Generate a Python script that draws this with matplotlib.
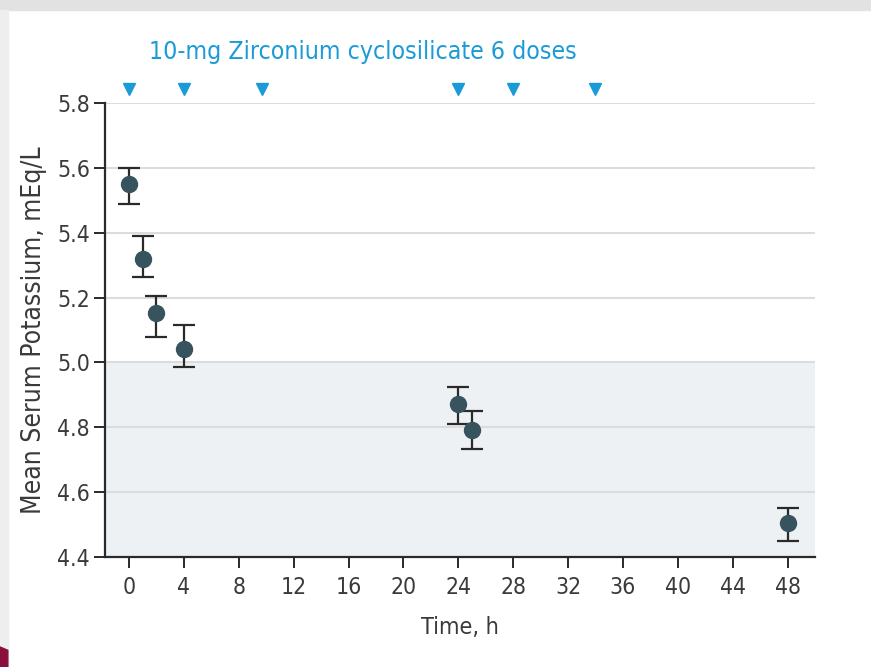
import matplotlib
matplotlib.use("Agg")
from matplotlib import pyplot as plt
from matplotlib import font_manager
from matplotlib.patches import Rectangle, Polygon
import numpy as np

# look for a narrow face, the original uses a condensed font
narrow = None
for fam in ['Liberation Sans Narrow', 'Roboto', 'Noto Sans', 'Open Sans', 'Lato', 'Inter', 'DejaVu Sans']:
    for f in font_manager.fontManager.ttflist:
        if f.name == fam and str(f.stretch) in ('condensed', 'semi-condensed', 'extra-condensed') \
                and f.style == 'normal' and f.weight in (400, 'normal', 'regular'):
            narrow = f
            break
    if narrow is not None:
        break

if narrow is not None:
    plt.rcParams['font.family'] = [narrow.name, 'DejaVu Sans']
    plt.rcParams['font.stretch'] = narrow.stretch
    k = 1.0
else:
    plt.rcParams['font.family'] = ['DejaVu Sans']
    k = 0.86

# data
hours = [0, 1, 2, 4, 24, 25, 48]
potassium = [5.55, 5.32, 5.153, 5.041, 4.872, 4.792, 4.505]
err_low = [5.49, 5.263, 5.078, 4.986, 4.81, 4.733, 4.45]
err_high = [5.60, 5.39, 5.205, 5.115, 4.924, 4.85, 4.551]
dose_hours = [0, 4, 9.7, 24, 28, 34]

xticks = list(range(0, 49, 4))
yticks = [4.4, 4.6, 4.8, 5.0, 5.2, 5.4, 5.6, 5.8]

txt = '#3a3a3a'
blue = '#1a9bd7'
dot = '#36535e'

fig = plt.figure(figsize=(8.71, 6.67), dpi=100)

# page decorations around the chart
fig.patches.append(Rectangle((0, 0.985), 1, 0.015, transform=fig.transFigure, color='#e2e2e2', zorder=0))
fig.patches.append(Rectangle((0, 0), 0.009, 0.985, transform=fig.transFigure, color='#eeeeee', zorder=0))
fig.patches.append(Polygon([[0, 0], [0.009, 0], [0.009, 0.025], [0, 0.03]], closed=True,
                           transform=fig.transFigure, color='#8a0f3c', zorder=1))

ax = fig.add_axes([0.1206, 0.1649, 0.8151, 0.6807])

lo = np.array(potassium) - np.array(err_low)
hi = np.array(err_high) - np.array(potassium)

ax.axhspan(4.4, 5.0, color='#eef1f4', zorder=0)
for y in yticks[1:]:
    ax.axhline(y, color='#dcdcdc', lw=1.5, zorder=1)

ax.errorbar(hours, potassium, yerr=[lo, hi], fmt='o', color=dot, ecolor='#2a2a2a',
            elinewidth=1.6, capsize=8, capthick=1.6, markersize=11.5, zorder=3)

ax.plot(dose_hours, [5.843] * len(dose_hours), linestyle='none', marker='v',
        markersize=9, color=blue, clip_on=False, zorder=4)

ax.set_xlim(-1.75, 50)
ax.set_ylim(4.4, 5.8)
ax.set_xticks(xticks)
ax.set_yticks(yticks)
ax.set_yticklabels(['%.1f' % v for v in yticks])

for s in ['top', 'right']:
    ax.spines[s].set_visible(False)
for s in ['left', 'bottom']:
    ax.spines[s].set_color('#2a2a2a')
    ax.spines[s].set_linewidth(1.6)

ax.tick_params(axis='both', length=8, width=1.4, color='#2a2a2a', labelsize=16.5 * k, labelcolor=txt)
ax.tick_params(axis='x', pad=6)
ax.tick_params(axis='y', pad=3)

ax.set_xlabel('Time, h', fontsize=16.8 * k, color=txt, labelpad=12)
ax.set_ylabel('Mean Serum Potassium, mEq/L', fontsize=19 * k, color=txt, labelpad=7)

fig.text(0.417, 0.922, '10-mg Zirconium cyclosilicate 6 doses', fontsize=17.8 * k,
         color=blue, ha='center', va='center')

fig.savefig('out.png', dpi=100, facecolor='white')
